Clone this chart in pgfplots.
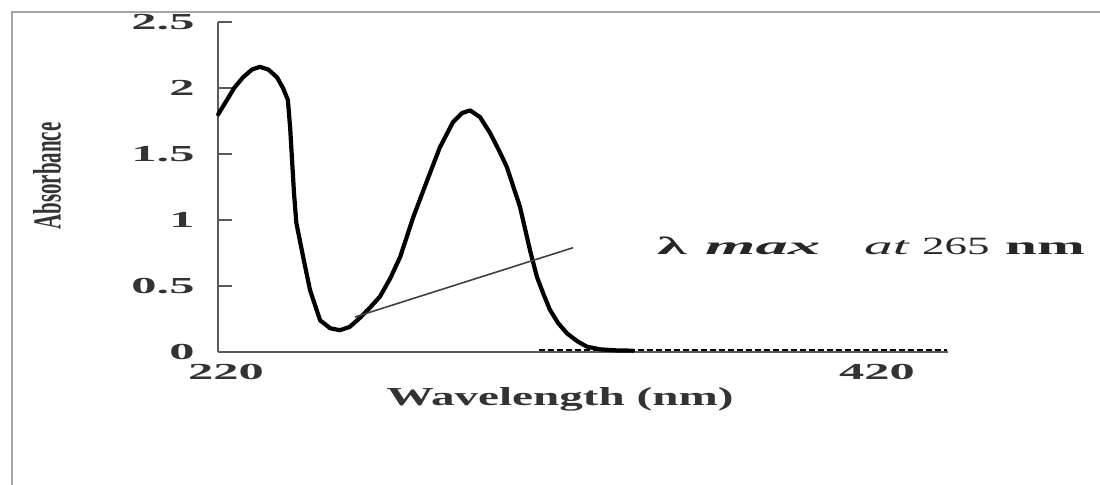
\documentclass[border=0pt]{standalone}
\usepackage{pgfplots}
\pgfplotsset{compat=1.18}
\usepackage{fontspec}
\setmainfont{Liberation Serif}
\usepackage{graphicx}
% the scan is stretched sideways, so text is widened with \sx
\newcommand{\sx}[2]{\scalebox{#1}[1]{#2}}

\begin{document}
\begin{tikzpicture}[x=1bp,y=1bp]
\useasboundingbox (0,0) rectangle (1100,485);
\draw[gray!70, line width=2.5bp] (12,0) -- (12,473) -- (1100,473);
\node[anchor=base west, font=\bfseries\fontsize{24}{24}\selectfont] at (505,492) {\sx{2}{Fig. 2}};

\begin{axis}[
  at={(218bp,133bp)}, anchor=south west,
  width=730bp, height=330bp, scale only axis,
  xmin=217.54, xmax=441.8, ymin=0, ymax=2.5,
  axis x line=bottom, axis y line=left,
  axis line style={-, draw=gray!70!black, line width=2bp},
  xtick=\empty,
  extra x ticks={220,420},
  extra x tick labels={\sx{2.2}{220},\sx{2.2}{420}},
  extra x tick style={major tick length=0pt, tick style={draw=none}},
  ytick={0,0.5,1,1.5,2,2.5},
  yticklabels={\sx{2.2}{0},\sx{2.2}{0.5},\sx{2.2}{1},\sx{2.2}{1.5},\sx{2.2}{2},\sx{2.2}{2.5}},
  ytick align=inside, major tick length=14bp,
  tick style={gray!70!black, line width=1.5bp},
  tick label style={font=\bfseries\fontsize{23}{23}\selectfont, text=black!80},
  yticklabel style={xshift=-20bp},
  xticklabel style={yshift=-9bp},
  xlabel={\sx{1.82}{Wavelength (nm)}},
  ylabel={\scalebox{1}[1.9]{Absorbance}},
  every axis x label/.style={at={(axis description cs:0.4685,0)}, anchor=center,
    yshift=-47bp, font=\bfseries\fontsize{26}{26}\selectfont, text=black!80},
  every axis y label/.style={at={(axis description cs:0,0.533)}, anchor=center,
    xshift=-171bp, rotate=90, font=\bfseries\fontsize{21}{21}\selectfont, text=black!80},
  clip=false,
]
\addplot[black, line width=4.2bp, line join=round, line cap=round] coordinates {
  (217.6,1.80) (220.3,1.91) (222.5,2.00) (225.2,2.08) (228.0,2.14) (230.4,2.16)
  (233.0,2.14) (235.7,2.08) (237.5,2.00) (239.0,1.91) (239.7,1.70) (240.3,1.45)
  (240.9,1.20) (241.6,0.98) (243.7,0.72) (245.8,0.47) (248.9,0.24) (252.0,0.18)
  (255.0,0.165) (258.0,0.19) (261.2,0.26) (264.0,0.33) (267.3,0.42) (270.5,0.56)
  (273.5,0.72) (277.5,1.02) (281.8,1.30) (285.7,1.55) (289.7,1.74) (292.5,1.81)
  (295.0,1.83) (298.0,1.78) (301.1,1.66) (304.0,1.52) (306.3,1.40) (310.3,1.10)
  (313.4,0.77) (315.5,0.57) (317.5,0.44) (319.5,0.32) (322.0,0.22) (324.8,0.14)
  (328.0,0.08) (330.9,0.04) (335.0,0.02) (340.0,0.012) (345.0,0.01)
};
% dotted baseline trace
\addplot[black, line width=2.2bp, dash pattern=on 6bp off 3bp] coordinates {
  (316.0,0.015) (441.5,0.015)
};
% tangent line
\addplot[gray!50!black, line width=1.6bp] coordinates {
  (259.6,0.265) (326.6,0.79)
};
\end{axis}

\begin{scope}[every node/.style={anchor=base west, inner sep=0pt, text=black!85}]
\node[font=\bfseries\fontsize{25}{25}\selectfont] at (657,230) {\sx{2.4}{λ}};
\node[font=\bfseries\itshape\fontsize{25}{25}\selectfont] at (705,230) {\sx{2.6}{max}};
\node[font=\itshape\fontsize{25}{25}\selectfont] at (864,230) {\sx{2.3}{at}};
\node[font=\fontsize{25}{25}\selectfont] at (922,230) {\sx{1.8}{265}};
\node[font=\bfseries\fontsize{25}{25}\selectfont] at (1005,230) {\sx{2.3}{nm}};
\end{scope}
\end{tikzpicture}
\end{document}
